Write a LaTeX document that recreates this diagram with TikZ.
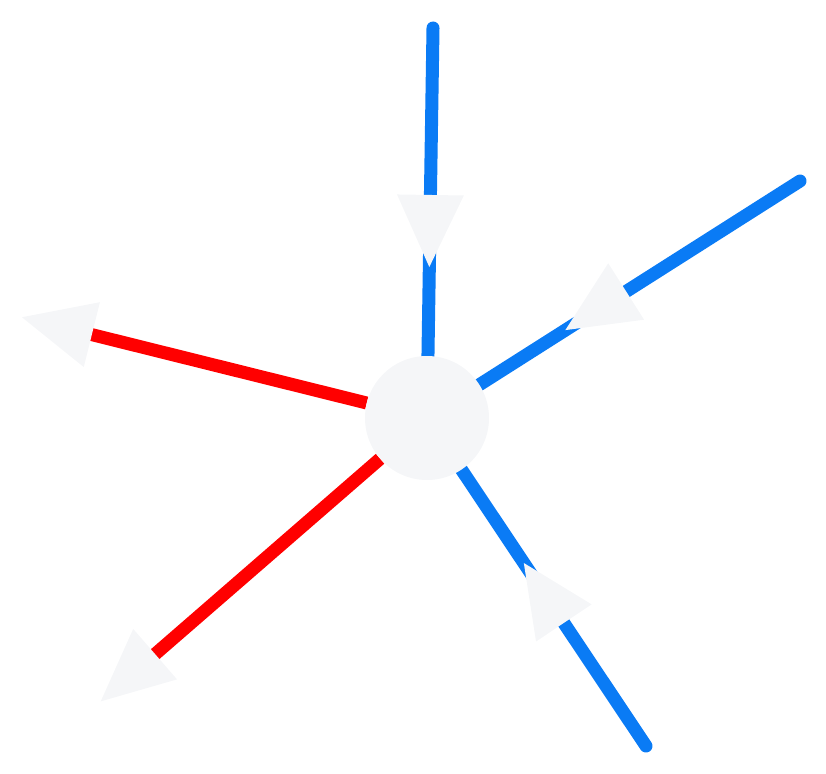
\documentclass[tikz,border=0pt]{standalone}
\usepackage{tikz}
\usetikzlibrary{arrows.meta,decorations.markings,backgrounds}
\definecolor{flowblue}{RGB}{10,123,245}
\definecolor{flowred}{RGB}{255,0,0}
\definecolor{hubgray}{RGB}{245,246,248}
\tikzset{x=1pt, y=-1pt,
    flow tip/.tip={Triangle[length=73pt, width=63pt, color=hubgray]},
    hub/.style={circle, fill=hubgray, minimum size=124pt, inner sep=0pt},
    flow in/.style={draw=flowblue, line width=13pt, line cap=round,
           postaction={decorate, decoration={markings,
             mark=at position #1 with {\arrow{flow tip}}}}},
    flow out/.style={draw=flowred, line width=13pt, -{flow tip}}
    }
\begin{document}
\begin{tikzpicture}
\useasboundingbox (0,0) rectangle (826,773);
\node[hub] (Hub) at (427,418) {};
\coordinate (InTop) at (433,28);
\coordinate (InRight) at (800,181);
\coordinate (InLow) at (646,746);
\coordinate (OutLeft) at (21,317);
\coordinate (OutLow) at (100,702);
\begin{scope}[on background layer]
  \draw[flow in=240pt] (InTop) -- (Hub);
  \draw[flow in=279pt] (InRight) -- (Hub);
  \draw[flow in=221pt] (InLow) -- (Hub);
  \draw[flow out] (Hub) -- (OutLeft);
  \draw[flow out] (Hub) -- (OutLow);
\end{scope}
\end{tikzpicture}
\end{document}
